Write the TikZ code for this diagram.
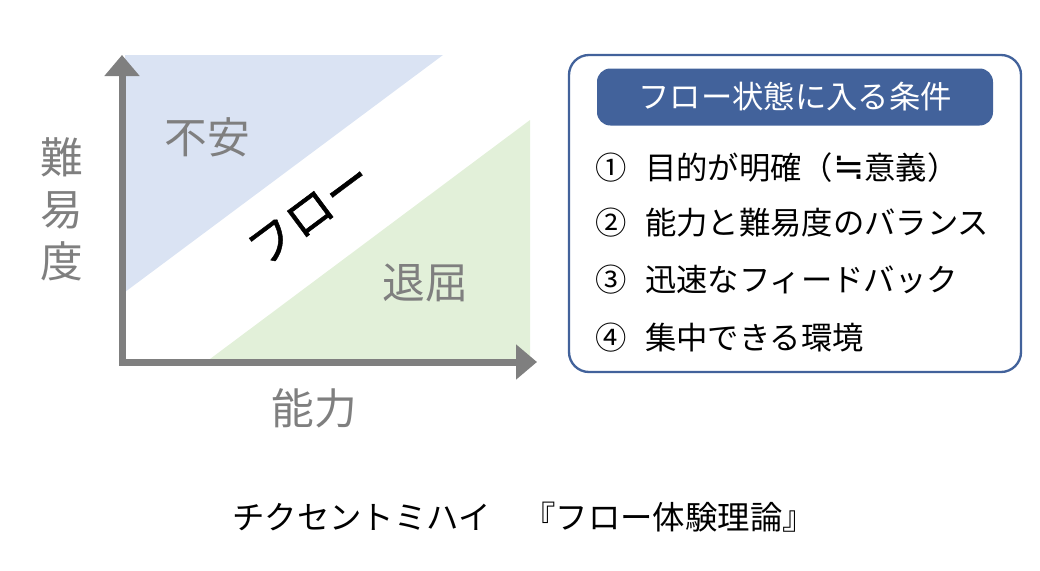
\documentclass[tikz,border=0pt]{standalone}
\usepackage{fontspec}
\setmainfont{Noto Sans CJK JP}
\newfontfamily\flowfont[FakeBold=1]{Noto Sans CJK JP}
\newfontfamily\symfont{DejaVu Sans}
\usetikzlibrary{arrows.meta}
\definecolor{anxblue}{RGB}{218,227,243}
\definecolor{boregreen}{RGB}{226,240,217}
\definecolor{axisgray}{RGB}{127,127,127}
\definecolor{condblue}{RGB}{66,98,155}

\begin{document}
\begin{tikzpicture}[x=0.75pt,y=0.75pt,yscale=-1,xscale=1,
  graylabel/.style={text=axisgray,inner sep=0pt,font=\fontsize{32}{39}\selectfont},
  condnum/.style={inner sep=0pt,font=\fontsize{23.5}{28}\selectfont},
  condtext/.style={anchor=west,inner sep=0pt,font=\fontsize{23.5}{28}\selectfont}]
\useasboundingbox (0,0) rectangle (1040,571);

%Shape: Right Triangle [anxiety]
\fill [anxblue] (125,55) -- (443,55) -- (125,292) -- cycle ;
%Shape: Right Triangle [boredom]
\fill [boregreen] (210,359) -- (530,120) -- (530,359) -- cycle ;

%Axes
\coordinate (O) at (122,362);
\coordinate (ytip) at (122,55);
\coordinate (xtip) at (537,362);
\draw [axisgray, line width=5.25pt, line join=miter, {Triangle[length=15.75pt,width=25.5pt]}-{Triangle[length=15.75pt,width=25.5pt]}] (ytip) -- (O) -- (xtip) ;

% Text Node
\node [graylabel] (anxiety) at (207,137) {不安};
% Text Node
\node [graylabel] (boredom) at (425,283) {退屈};
% Text Node
\node [graylabel] (ability) at (314,408) {能力};
% Text Node
\node [graylabel, align=center] (difficulty) at (62,209) {難\\易\\度};
% Text Node
\node [rotate=36.7, inner sep=0pt, font=\flowfont\fontsize{35}{40}\selectfont] (flow) at (310,214) {フロー};

%Shape: Rounded Rect [conditions]
\draw [condblue, line width=1.75pt, rounded corners=15pt] (569,55) rectangle (1021,372) ;
% Text Node
\node [fill=condblue, text=white, rounded corners=10pt, minimum width=297pt, minimum height=42.75pt, inner sep=0pt, font=\fontsize{23.5}{28}\selectfont] (condtitle) at (795,97) {フロー状態に入る条件};

% Text Node
\node [condnum] (num1) at (611,168) {①};
\node [condtext] (cond1) at (645,168) {目的が明確（{\symfont\fontsize{28}{28}\selectfont ≒}意義）};
% Text Node
\node [condnum] (num2) at (611,223) {②};
\node [condtext] (cond2) at (645,223) {能力と難易度のバランス};
% Text Node
\node [condnum] (num3) at (611,280) {③};
\node [condtext] (cond3) at (645,280) {迅速なフィードバック};
% Text Node
\node [condnum] (num4) at (611,338) {④};
\node [condtext] (cond4) at (645,338) {集中できる環境};

% Text Node
\node [anchor=west, inner sep=0pt, font=\fontsize{24.3}{28}\selectfont] (source) at (232,517) {チクセントミハイ　『フロー体験理論』};

\end{tikzpicture}
\end{document}
